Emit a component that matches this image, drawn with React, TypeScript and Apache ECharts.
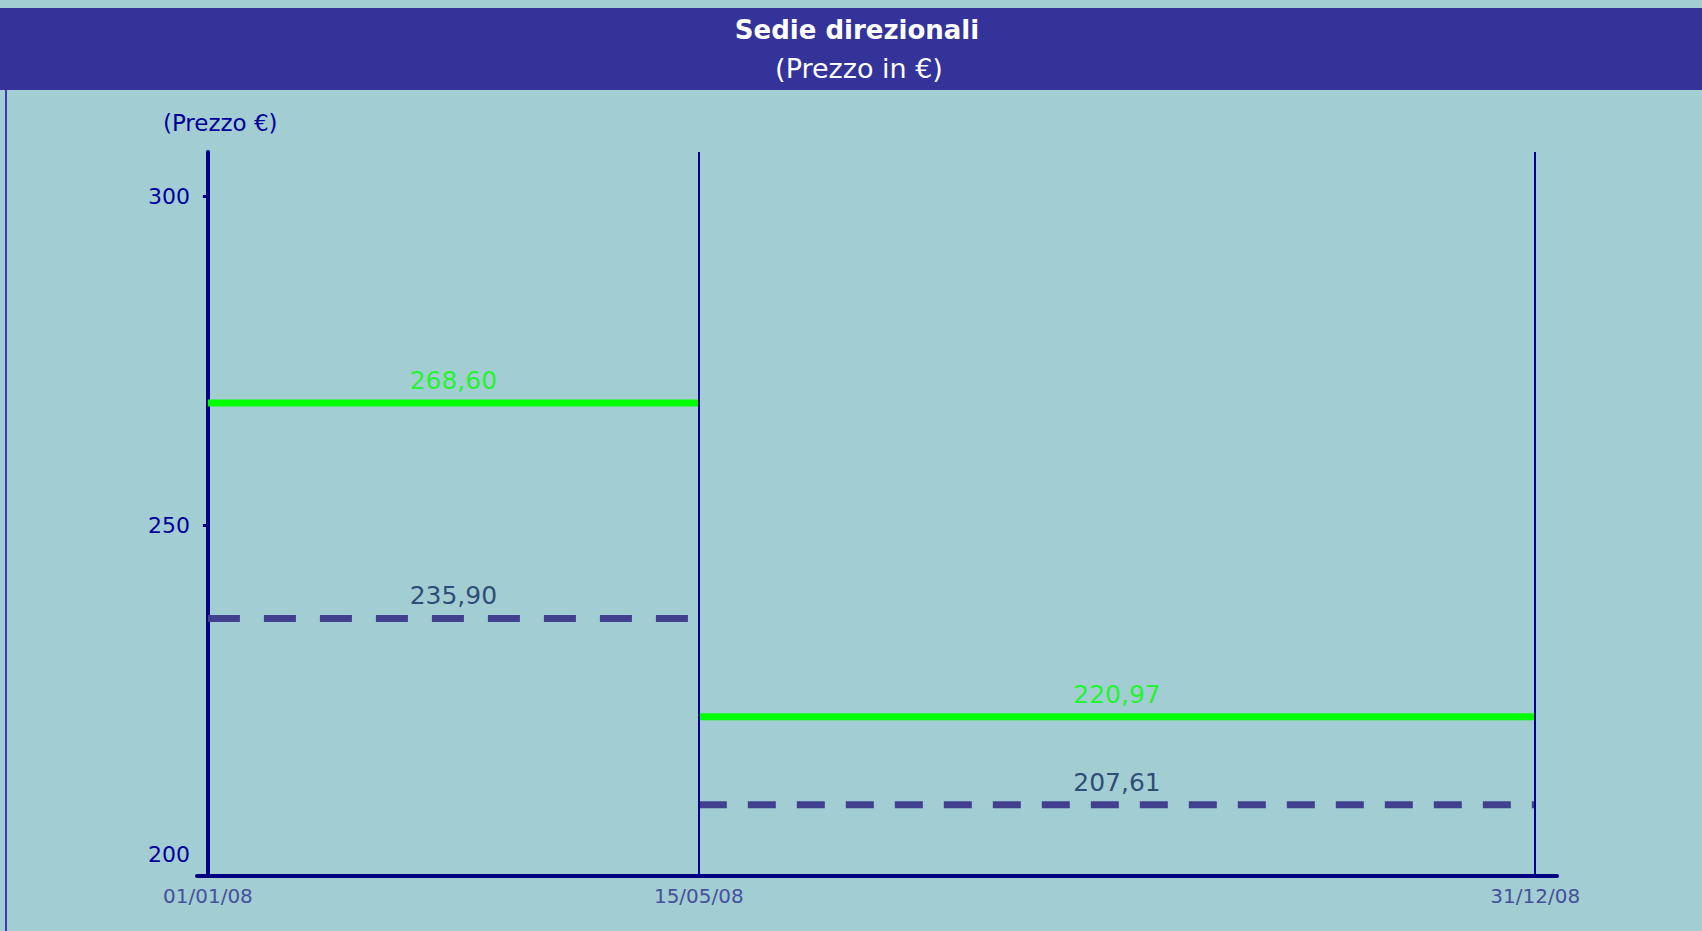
import React, { useEffect, useRef } from "react";
import * as echarts from "echarts";

// Periods (x axis) — dates and day index within 2008
const dateLabels = ["01/01/08", "15/05/08", "31/12/08"];
const dayIndex = [0, 135, 365];

// Prices per period (€)
const greenPrices = [268.6, 220.97];
const dashedPrices = [235.9, 207.61];

// Y axis tick labels
const yTickLabels = [200, 250, 300];
const yTickMarks = [250, 300];

const fmt = (v: number) => v.toFixed(2).replace(".", ",");

export default function App() {
  const ref = useRef<HTMLDivElement>(null);

  useEffect(() => {
    if (!ref.current) return;
    const chart = echarts.init(ref.current, undefined, { renderer: "svg" });
    const FONT = "DejaVu Sans";
    const dashPatterns = [
      [32, 24],
      [28, 21],
    ];

    const series: any[] = [];
    greenPrices.forEach((v, i) => {
      series.push({
        type: "line",
        name: "verde" + i,
        data: [
          [dayIndex[i], v],
          [dayIndex[i + 1], v],
        ],
        symbol: "none",
        lineStyle: { color: "#00ff00", width: 7, cap: "butt" },
        z: 3,
      });
    });
    dashedPrices.forEach((v, i) => {
      series.push({
        type: "line",
        name: "tratteggio" + i,
        data: [
          [dayIndex[i], v],
          [dayIndex[i + 1], v],
        ],
        symbol: "none",
        lineStyle: { color: "#40408f", width: 7, type: dashPatterns[i], cap: "butt" },
        z: 3,
      });
    });
    // labels at segment midpoints
    series.push({
      type: "scatter",
      symbolSize: 0,
      data: greenPrices.map((v, i) => [(dayIndex[i] + dayIndex[i + 1]) / 2, v]),
      label: {
        show: true,
        position: "top",
        distance: 10,
        formatter: (p: any) => fmt(p.value[1]),
        color: "#00ff00",
        fontFamily: FONT,
        fontSize: 25,
      },
      z: 4,
    });
    series.push({
      type: "scatter",
      symbolSize: 0,
      data: dashedPrices.map((v, i) => [(dayIndex[i] + dayIndex[i + 1]) / 2, v]),
      label: {
        show: true,
        position: "top",
        distance: 10,
        formatter: (p: any) => fmt(p.value[1]),
        color: "#0e2a5e",
        fontFamily: FONT,
        fontSize: 25,
      },
      z: 4,
    });
    // vertical period separators
    series.push({
      type: "line",
      data: [],
      markLine: {
        silent: true,
        symbol: "none",
        label: { show: false },
        lineStyle: { color: "#000090", width: 2, type: "solid" },
        data: dayIndex.slice(1).map((d) => ({ xAxis: d })),
      },
    });

    chart.setOption({
      animation: false,
      backgroundColor: "#a2cdd3",
      textStyle: { fontFamily: FONT },
      grid: { left: 197, right: 145, top: 152, bottom: 55 },
      xAxis: {
        type: "value",
        min: -3,
        max: 371,
        splitLine: { show: false },
        axisTick: { show: false },
        axisLine: { lineStyle: { color: "#000080", width: 4 } },
        axisLabel: {
          customValues: dayIndex,
          formatter: (v: number) => dateLabels[dayIndex.indexOf(v)] ?? "",
          color: "#45509a",
          fontSize: 20,
          fontFamily: FONT,
          margin: 10,
        },
      },
      yAxis: {
        type: "value",
        min: 196.8,
        max: 306.7,
        name: "(Prezzo €)",
        nameLocation: "end",
        nameGap: 18,
        nameTextStyle: {
          color: "#000099",
          fontSize: 23,
          fontFamily: FONT,
          align: "left",
          padding: [0, 0, 0, -45],
        },
        splitLine: { show: false },
        axisLine: { onZero: true, lineStyle: { color: "#000080", width: 4 } },
        axisTick: {
          show: true,
          customValues: yTickMarks,
          length: 5,
          lineStyle: { color: "#000080", width: 3 },
        },
        axisLabel: {
          customValues: yTickLabels,
          color: "#000099",
          fontSize: 22,
          fontFamily: FONT,
          margin: 7,
        },
      },
      graphic: [
        {
          type: "rect",
          shape: { x: 0, y: 8, width: 1702, height: 82 },
          style: { fill: "#333399" },
          z: 0,
        },
        {
          type: "line",
          shape: { x1: 6, y1: 90, x2: 6, y2: 931 },
          style: { stroke: "#3b3bab", lineWidth: 2 },
        },
        {
          type: "text",
          x: 857,
          y: 30,
          style: {
            text: "Sedie direzionali",
            fill: "#ffffff",
            fontFamily: FONT,
            fontSize: 26,
            fontWeight: "bold",
            align: "center",
            verticalAlign: "middle",
          },
        },
        {
          type: "text",
          x: 859,
          y: 68,
          style: {
            text: "(Prezzo in €)",
            fill: "#ffffff",
            fontFamily: FONT,
            fontSize: 27,
            align: "center",
            verticalAlign: "middle",
          },
        },
      ],
      series,
    });

    return () => chart.dispose();
  }, []);

  return (
    <div
      ref={ref}
      style={{ position: "fixed", left: 0, top: 0, width: 1702, height: 931 }}
    />
  );
}
